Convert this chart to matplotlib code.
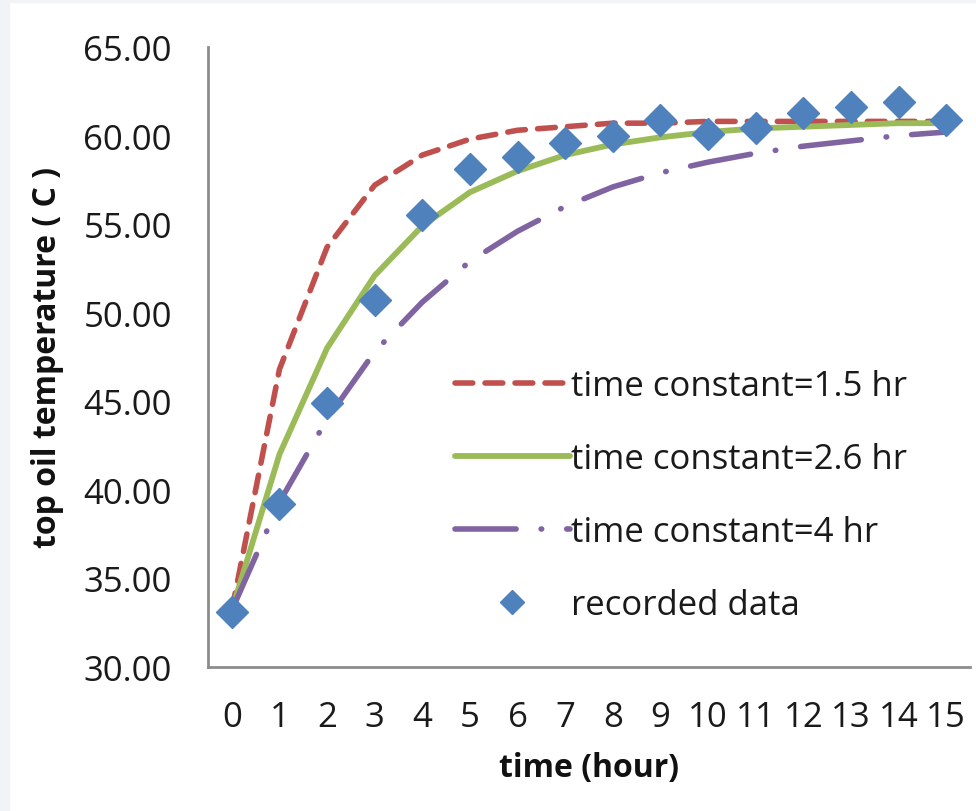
import matplotlib
matplotlib.use("Agg")
import matplotlib.pyplot as plt
from matplotlib.patches import Rectangle

# values
HOURS = list(range(16))
TAU_15 = [33.2, 46.8, 53.7, 57.2, 58.9, 59.8, 60.3, 60.5, 60.7, 60.7, 60.8, 60.8, 60.8, 60.8, 60.8, 60.8]
TAU_26 = [33.2, 42.0, 48.0, 52.1, 54.9, 56.8, 58.0, 58.9, 59.5, 59.9, 60.2, 60.4, 60.5, 60.6, 60.7, 60.7]
TAU_40 = [33.2, 39.3, 44.0, 47.8, 50.6, 52.9, 54.6, 56.0, 57.1, 57.9, 58.5, 59.0, 59.4, 59.7, 60.0, 60.2]
RECORDED = [33.1, 39.2, 44.9, 50.7, 55.5, 58.1, 58.8, 59.6, 60.0, 60.9, 60.1, 60.4, 61.3, 61.6, 61.9, 60.9]
Y_TICKS = [30, 35, 40, 45, 50, 55, 60, 65]

FONT = ["Open Sans", "DejaVu Sans"]
plt.rcParams["font.family"] = FONT

fig = plt.figure(figsize=(9.76, 8.12), dpi=100, facecolor="white")
# thin grey page border at left / top
fig.patches.append(Rectangle((0, 0), 9 / 976, 1, transform=fig.transFigure, color="#f1f3f6", zorder=0))
fig.patches.append(Rectangle((0, 1 - 3 / 812), 1, 3 / 812, transform=fig.transFigure, color="#f1f3f6", zorder=0))

ax = fig.add_axes([208 / 976, 1 - 668 / 812, (970 - 208) / 976, (668 - 48) / 812])

ax.plot(HOURS, TAU_15, color="#c0504d", lw=4.0, dashes=(3.2, 2.2), dash_capstyle="round",
        label="time constant=1.5 hr", zorder=3)
ax.plot(HOURS, TAU_26, color="#9bbb59", lw=4.2, solid_capstyle="round",
        label="time constant=2.6 hr", zorder=3)
ax.plot(HOURS, TAU_40, color="#8064a2", lw=4.0, dashes=(11, 4.5, 0.1, 4.5), dash_capstyle="round",
        label="time constant=4 hr", zorder=3)
ax.plot(HOURS, RECORDED, ls="none", marker="D", ms=16, color="#4f81bd", mec="#4f81bd",
        label="recorded data", zorder=4)

ax.set_xlim(-0.5, 15.5)
ax.set_ylim(30, 65)
ax.set_xticks(HOURS)
ax.set_xticklabels([str(h) for h in HOURS])
ax.set_yticks(Y_TICKS)
ax.set_yticklabels([f"{v:.2f}" for v in Y_TICKS])
ax.tick_params(axis="both", length=0, labelsize=25, colors="#1a1a1a")
ax.tick_params(axis="y", pad=26)
ax.tick_params(axis="x", pad=24)

for s in ["top", "right"]:
    ax.spines[s].set_visible(False)
for s in ["left", "bottom"]:
    ax.spines[s].set_color("#8c8c8c")
    ax.spines[s].set_linewidth(2)

ax.set_xlabel("time (hour)", fontsize=23, fontweight="bold", labelpad=12, color="#111111")
ax.set_ylabel("top oil temperature ( C )", fontsize=23, fontweight="bold", labelpad=14, color="#111111")

leg = ax.legend(loc="upper left", bbox_to_anchor=(455 / 976, 1 - 370 / 812),
                bbox_transform=fig.transFigure, frameon=False, fontsize=25,
                handlelength=3.3, handletextpad=0.05, labelspacing=1.12,
                borderpad=0, borderaxespad=0, numpoints=1)
leg.legend_handles[3].set_markersize(12)
for t in leg.get_texts():
    t.set_color("#1a1a1a")

plt.savefig("out.png", dpi=100, facecolor=fig.get_facecolor())
